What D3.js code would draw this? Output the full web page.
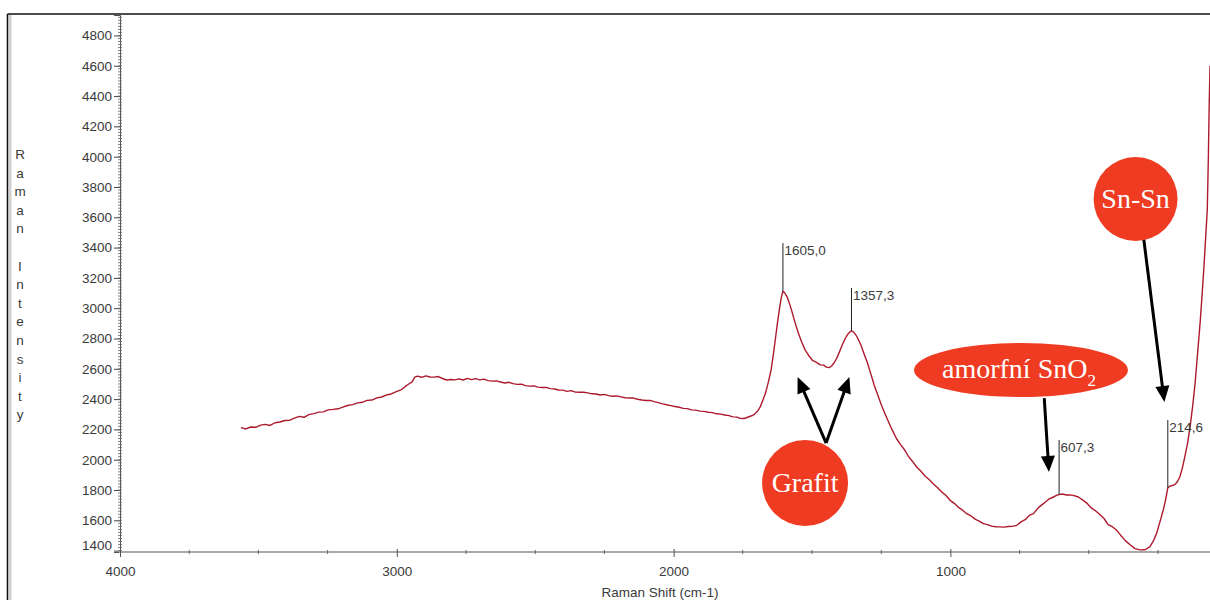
<!DOCTYPE html>
<html>
<head>
<meta charset="utf-8">
<script src="https://cdn.jsdelivr.net/npm/d3@7"></script>
<style>
  html, body { margin: 0; padding: 0; background: #fff; }
  svg { display: block; }
</style>
</head>
<body>
<svg id="chart" width="1210" height="600"></svg>
<script>
// Raman spectrum: shift (cm-1) and measured intensity
const shift = [
  3563, 3545, 3528, 3510, 3492, 3475, 3458, 3440, 3422, 3405, 3388, 3370, 3352, 3335, 3318, 3300,
  3282, 3265, 3248, 3230, 3212, 3195, 3178, 3160, 3142, 3125, 3108, 3090, 3072, 3055, 3038, 3020,
  3002, 2985, 2970, 2958, 2945, 2935, 2925, 2910, 2895, 2880, 2865, 2850, 2835, 2820, 2805, 2790,
  2775, 2760, 2745, 2730, 2715, 2700, 2685, 2670, 2655, 2640, 2625, 2610, 2595, 2580, 2565, 2550,
  2535, 2520, 2505, 2490, 2475, 2460, 2445, 2430, 2415, 2400, 2385, 2370, 2355, 2340, 2325, 2310,
  2295, 2280, 2265, 2250, 2235, 2220, 2205, 2190, 2175, 2160, 2145, 2130, 2115, 2100, 2085, 2070,
  2055, 2040, 2025, 2010, 1995, 1980, 1965, 1950, 1935, 1920, 1905, 1890, 1875, 1860, 1845, 1830,
  1815, 1800, 1785, 1770, 1760, 1745, 1730, 1718, 1708, 1698, 1688, 1678, 1668, 1658, 1648, 1640,
  1632, 1625, 1618, 1611, 1605, 1598, 1590, 1582, 1572, 1562, 1550, 1538, 1525, 1512, 1498, 1484,
  1470, 1458, 1448, 1438, 1430, 1420, 1410, 1400, 1390, 1380, 1370, 1362, 1357.3, 1350, 1342, 1333,
  1323, 1313, 1300, 1288, 1275, 1262, 1250, 1238, 1225, 1210, 1195, 1180, 1165, 1150, 1136, 1122,
  1108, 1092, 1077, 1062, 1047, 1032, 1016, 1001, 986, 971, 956, 941, 926, 911, 896, 881,
  866, 851, 836, 821, 806, 791, 776, 760, 745, 730, 715, 700, 682, 664, 646, 628,
  615, 607.3, 596, 580, 568, 556, 538, 520, 505, 490, 475, 460, 445, 430, 415, 399,
  385, 368, 351, 333, 315, 297, 279, 267, 255, 243, 231, 222, 214.6, 207, 198, 189,
  180, 171, 162, 153, 143, 134, 125, 116, 107, 98, 91, 84, 78, 72, 68, 65, 62
];
const intensity = [
  2212, 2203, 2216, 2214, 2228, 2233, 2226, 2244, 2249, 2259, 2260, 2274, 2286, 2280, 2298, 2304,
  2314, 2316, 2329, 2332, 2336, 2347, 2358, 2364, 2375, 2379, 2392, 2394, 2408, 2414, 2427, 2434,
  2450, 2461, 2482, 2498, 2514, 2545, 2552, 2544, 2553, 2546, 2545, 2549, 2536, 2526, 2529, 2527,
  2534, 2526, 2537, 2529, 2535, 2527, 2532, 2522, 2519, 2520, 2513, 2506, 2511, 2502, 2497, 2499,
  2489, 2486, 2487, 2479, 2477, 2477, 2469, 2467, 2460, 2459, 2451, 2456, 2446, 2445, 2445, 2441,
  2435, 2434, 2427, 2431, 2423, 2419, 2421, 2415, 2409, 2407, 2407, 2399, 2394, 2391, 2392, 2383,
  2377, 2369, 2363, 2357, 2351, 2346, 2339, 2337, 2329, 2327, 2321, 2319, 2313, 2311, 2303, 2301,
  2295, 2291, 2283, 2281, 2273, 2272, 2282, 2290, 2300, 2318, 2345, 2390, 2440, 2510, 2590, 2690,
  2800, 2900, 2990, 3070, 3112, 3100, 3075, 3035, 2975, 2910, 2840, 2780, 2725, 2688, 2655, 2642,
  2626, 2624, 2611, 2608, 2617, 2640, 2672, 2715, 2760, 2800, 2830, 2845, 2850, 2842, 2825, 2795,
  2755, 2705, 2640, 2570, 2490, 2425, 2365, 2310, 2255, 2195, 2140, 2100, 2064, 2018, 1987, 1952,
  1927, 1893, 1870, 1842, 1817, 1788, 1764, 1732, 1712, 1686, 1667, 1644, 1630, 1608, 1595, 1578,
  1572, 1562, 1558, 1557, 1555, 1559, 1560, 1567, 1590, 1604, 1632, 1644, 1684, 1710, 1738, 1754,
  1766, 1770, 1774, 1767, 1768, 1765, 1754, 1732, 1710, 1680, 1662, 1638, 1612, 1572, 1558, 1534,
  1502, 1466, 1439, 1413, 1405, 1406, 1427, 1462, 1514, 1590, 1668, 1740, 1815, 1826, 1830, 1836,
  1855, 1888, 1945, 2020, 2110, 2218, 2350, 2504, 2700, 2900, 3080, 3274, 3460, 3648, 4000, 4350, 4600
];

// Axis ticks
const yTicks = [1400, 1600, 1800, 2000, 2200, 2400, 2600, 2800, 3000, 3200, 3400, 3600, 3800, 4000, 4200, 4400, 4600, 4800];
const xTicks = [4000, 3000, 2000, 1000];
const xMinor = [3750, 3500, 3250, 2750, 2500, 2250, 1750, 1500, 1250, 750, 500, 250];

// Labelled peak positions and the intensity where each marker line starts
const peakShift = [1605.0, 1357.3, 607.3, 214.6];
const peakLabel = ["1605,0", "1357,3", "607,3", "214,6"];
const peakTop = [3430, 3133, 2130, 2262];

// Band assignments: label bubble centres and arrow start/end points (data units)
const bubbleText = ["Grafit", "amorfní SnO", "Sn-Sn"];
const bubbleShift = [1525, 745, 331];
const bubbleInt = [1846, 2592, 3721];
const arrowFromShift = [1449, 1449, 661, 302];
const arrowFromInt = [2110, 2110, 2407, 3463];
const arrowToShift = [1552, 1365, 644, 227];
const arrowToInt = [2546, 2546, 1919, 2381];

const svg = d3.select("#chart");
const W = 1210, H = 600;
const plotLeft = 120, plotBottom = 552, plotTop = 15;

const x = d3.scaleLinear().domain([4000, 0]).range([plotLeft, plotLeft + 4 * 276.8]);
const y = d3.scaleLinear().domain([1391, 4935]).range([plotBottom, plotTop]);

const font = "'Liberation Sans', Arial, sans-serif";
const serif = "'Liberation Serif', 'Times New Roman', serif";
const red = "#ef3b22";
const textGray = "#3a3a3a";

svg.append("rect").attr("width", W).attr("height", H).attr("fill", "#fff");

// outer frame
svg.append("line").attr("x1", 7.5).attr("x2", W).attr("y1", 14).attr("y2", 14)
  .attr("stroke", "#111").attr("stroke-width", 1.6);
svg.append("line").attr("x1", 7.5).attr("x2", 7.5).attr("y1", 14).attr("y2", H)
  .attr("stroke", "#111").attr("stroke-width", 1.6);
svg.append("line").attr("x1", 10.3).attr("x2", 10.3).attr("y1", 15).attr("y2", H)
  .attr("stroke", "#cfcfcf").attr("stroke-width", 2.4);

svg.append("defs").append("clipPath").attr("id", "plot")
  .append("rect").attr("x", plotLeft).attr("y", plotTop)
  .attr("width", W - plotLeft).attr("height", plotBottom - plotTop);

// y axis
const yAxis = svg.append("g").attr("transform", `translate(${plotLeft},0)`)
  .call(d3.axisLeft(y).tickValues(yTicks).tickSize(6).tickPadding(2).tickFormat(d => d));
yAxis.select(".domain").attr("stroke", "#555").attr("stroke-width", 1);
yAxis.selectAll(".tick line").attr("stroke", "#444");
yAxis.selectAll(".tick text")
  .attr("font-family", font).attr("font-size", 13.5).attr("fill", textGray)
  .attr("dy", d => d === 1400 ? "-0.05em" : "0.32em");

const yMinor = d3.range(1400, 4935, 20);
svg.append("g").selectAll("line").data(yMinor).join("line")
  .attr("x1", plotLeft - 2).attr("x2", plotLeft + 2)
  .attr("y1", d => y(d)).attr("y2", d => y(d))
  .attr("stroke", "#666").attr("stroke-width", 0.8);

// x axis
svg.append("line").attr("x1", plotLeft - 1).attr("x2", W).attr("y1", plotBottom).attr("y2", plotBottom)
  .attr("stroke", "#a9a9a9").attr("stroke-width", 2);
const xAxis = svg.append("g").attr("transform", `translate(0,${plotBottom})`)
  .call(d3.axisBottom(x).tickValues(xTicks).tickSize(5).tickPadding(9).tickFormat(d => d));
xAxis.select(".domain").remove();
xAxis.selectAll(".tick line").attr("stroke", "#555").attr("y1", -3);
xAxis.selectAll(".tick text").attr("font-family", font).attr("font-size", 13.5).attr("fill", textGray);
svg.append("g").selectAll("line").data(xMinor).join("line")
  .attr("x1", d => x(d)).attr("x2", d => x(d))
  .attr("y1", plotBottom - 2).attr("y2", plotBottom + 2)
  .attr("stroke", "#666").attr("stroke-width", 1);

// axis titles
svg.append("text").attr("x", 660).attr("y", 597).attr("text-anchor", "middle")
  .attr("font-family", font).attr("font-size", 13.5).attr("fill", textGray)
  .text("Raman Shift (cm-1)");
const yTitle = svg.append("text").attr("font-family", font).attr("font-size", 13.5)
  .attr("fill", textGray).attr("text-anchor", "middle");
Array.from("Raman Intensity").forEach((ch, i) => {
  yTitle.append("tspan").attr("x", 20).attr("y", 159 + i * 18.6).text(ch === " " ? "\u00a0" : ch);
});

// spectrum
const pts = shift.map((s, i) => [s, intensity[i]]);
const line = d3.line().x(d => x(d[0])).y(d => y(d[1]));
svg.append("g").attr("clip-path", "url(#plot)")
  .append("path").datum(pts)
  .attr("d", line)
  .attr("fill", "none")
  .attr("stroke", "#ad1a2e")
  .attr("stroke-width", 1.4)
  .attr("stroke-linejoin", "round");

// intensity of the spectrum at a given shift
function intensityAt(s) {
  for (let i = 0; i < shift.length - 1; i++) {
    if (shift[i] >= s && shift[i + 1] <= s) {
      const t = (shift[i] - s) / (shift[i] - shift[i + 1]);
      return intensity[i] + t * (intensity[i + 1] - intensity[i]);
    }
  }
  return intensity[intensity.length - 1];
}

// peak markers
const peaks = svg.append("g");
peakShift.forEach((s, i) => {
  peaks.append("line")
    .attr("x1", x(s)).attr("x2", x(s))
    .attr("y1", y(peakTop[i])).attr("y2", y(intensityAt(s)))
    .attr("stroke", "#222").attr("stroke-width", 1);
  peaks.append("text")
    .attr("x", x(s) + 1.5).attr("y", y(peakTop[i]) + 12)
    .attr("font-family", font).attr("font-size", 13.5).attr("fill", textGray)
    .text(peakLabel[i]);
});

// arrows
const arrows = svg.append("g");
arrowFromShift.forEach((s, i) => {
  const x0 = x(s), y0 = y(arrowFromInt[i]);
  const x1 = x(arrowToShift[i]), y1 = y(arrowToInt[i]);
  const a = Math.atan2(y1 - y0, x1 - x0);
  const len = 16, half = 7;
  const bx = x1 - len * Math.cos(a), by = y1 - len * Math.sin(a);
  arrows.append("line").attr("x1", x0).attr("y1", y0)
    .attr("x2", x1 - (len - 2) * Math.cos(a)).attr("y2", y1 - (len - 2) * Math.sin(a))
    .attr("stroke", "#000").attr("stroke-width", 3);
  arrows.append("path")
    .attr("d", `M${x1},${y1} L${bx - half * Math.sin(a)},${by + half * Math.cos(a)} L${bx + half * Math.sin(a)},${by - half * Math.cos(a)} Z`)
    .attr("fill", "#000");
});

// band labels
const bubbles = svg.append("g");
// Grafit
bubbles.append("circle").attr("cx", x(bubbleShift[0])).attr("cy", y(bubbleInt[0])).attr("r", 43).attr("fill", red);
bubbles.append("text").attr("x", x(bubbleShift[0])).attr("y", y(bubbleInt[0]) + 9)
  .attr("text-anchor", "middle").attr("font-family", serif).attr("font-size", 28).attr("fill", "#fff")
  .text(bubbleText[0]);
// amorfní SnO2
bubbles.append("ellipse").attr("cx", x(bubbleShift[1])).attr("cy", y(bubbleInt[1])).attr("rx", 107).attr("ry", 27).attr("fill", red);
const sno = bubbles.append("text").attr("x", x(bubbleShift[1]) - 2).attr("y", y(bubbleInt[1]) + 8)
  .attr("text-anchor", "middle").attr("font-family", serif).attr("font-size", 28).attr("fill", "#fff");
sno.append("tspan").text(bubbleText[1]);
sno.append("tspan").attr("font-size", 17).attr("dy", 8).text("2");
// Sn-Sn
bubbles.append("circle").attr("cx", x(bubbleShift[2])).attr("cy", y(bubbleInt[2])).attr("r", 42).attr("fill", red);
bubbles.append("text").attr("x", x(bubbleShift[2])).attr("y", y(bubbleInt[2]) + 9)
  .attr("text-anchor", "middle").attr("font-family", serif).attr("font-size", 28).attr("fill", "#fff")
  .text(bubbleText[2]);
</script>
</body>
</html>
